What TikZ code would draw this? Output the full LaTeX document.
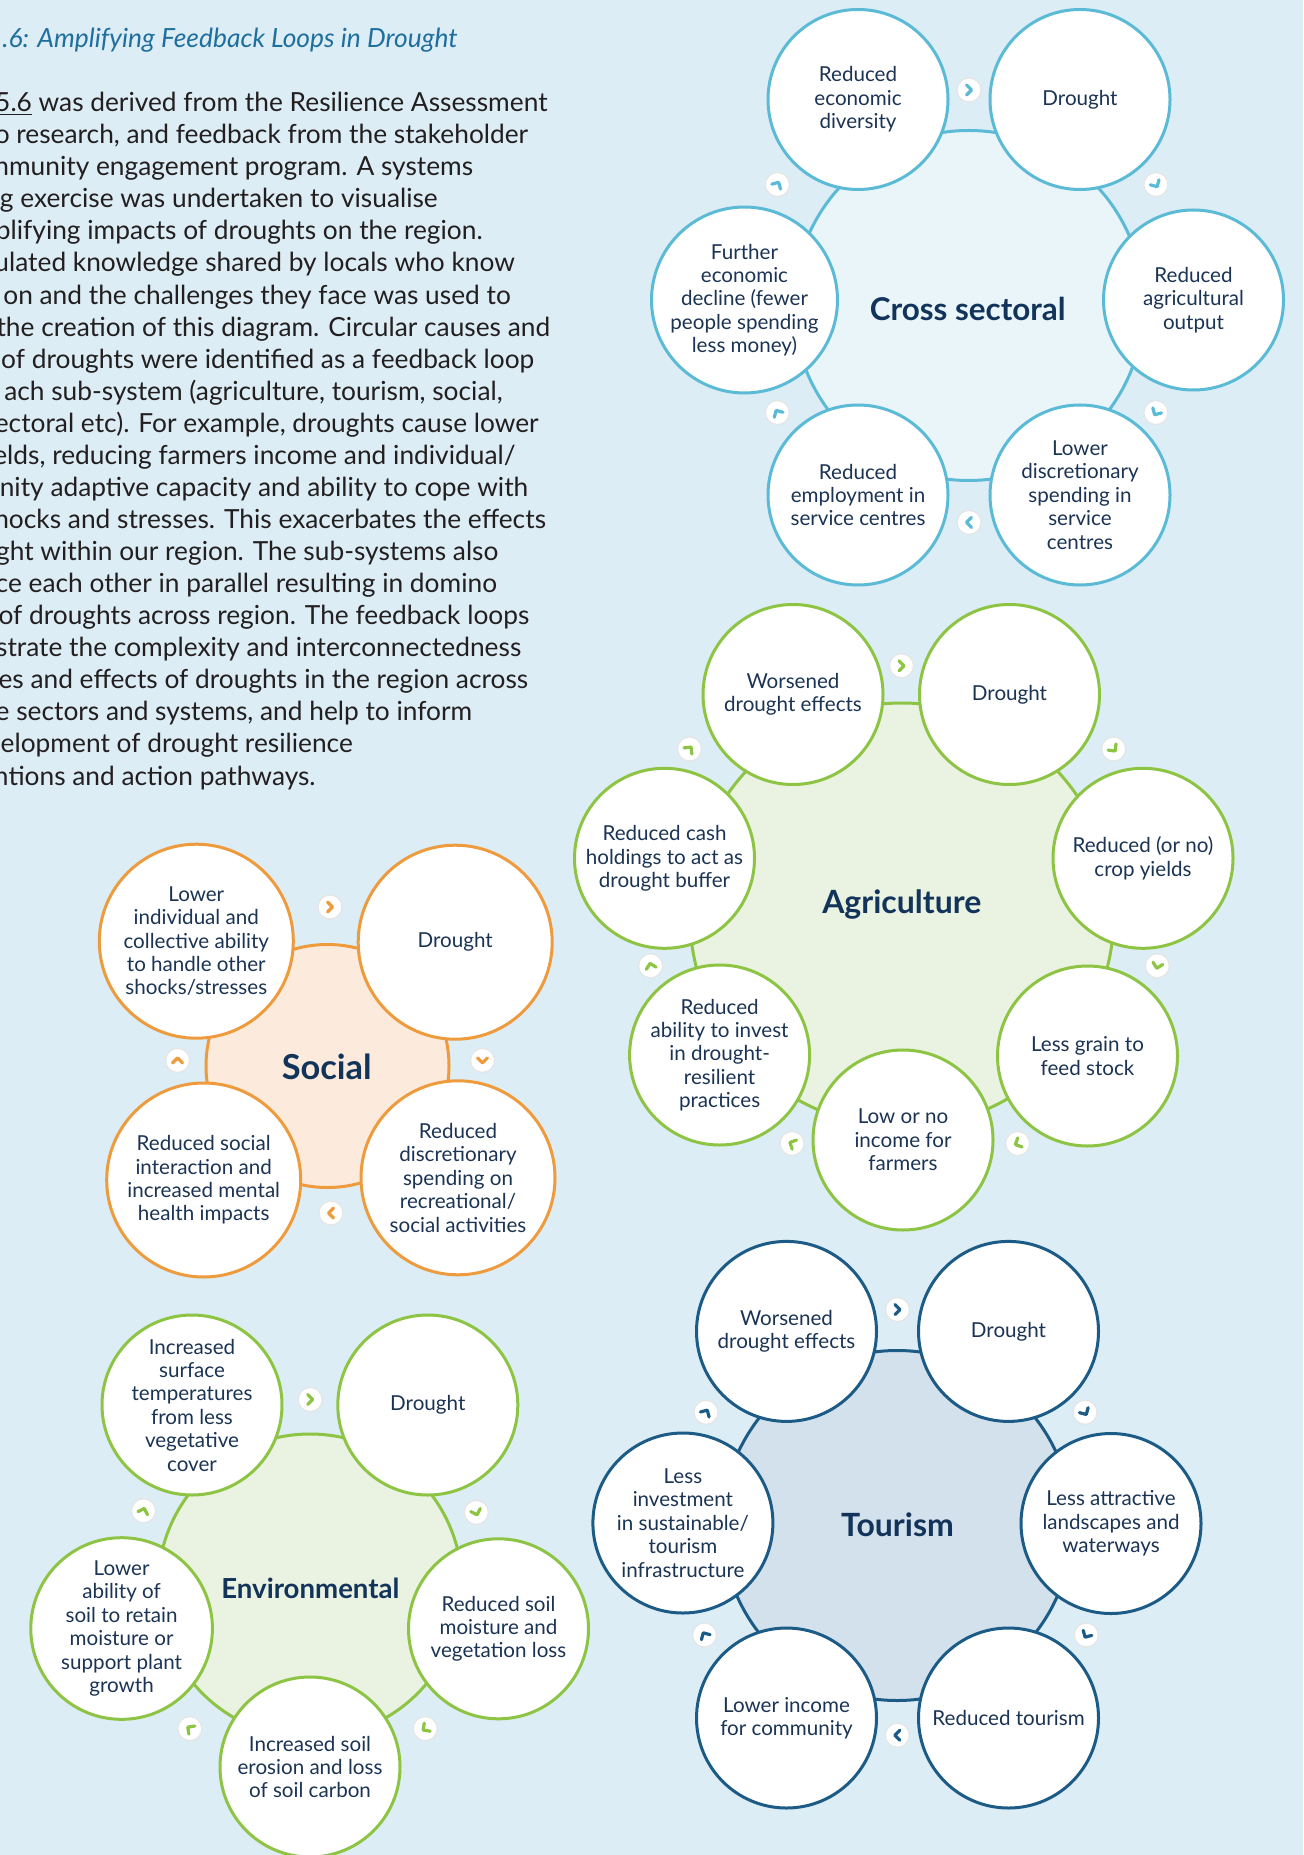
\documentclass[tikz,border=0pt]{standalone}
\usepackage{fontspec}
\setmainfont{Lato}
\definecolor{bg}{HTML}{DCEDF5}
\definecolor{csline}{HTML}{5BBAD5}
\definecolor{cshub}{HTML}{EAF5FA}
\definecolor{agline}{HTML}{8DC443}
\definecolor{aghub}{HTML}{EAF2E1}
\definecolor{soline}{HTML}{EE9B3D}
\definecolor{sohub}{HTML}{FCEBDC}
\definecolor{toline}{HTML}{1C5B86}
\definecolor{tohub}{HTML}{D3E1EC}
\definecolor{navy}{HTML}{1B3454}
\definecolor{titlec}{HTML}{13345A}
\definecolor{headc}{HTML}{1F6F9E}
\definecolor{bodyc}{HTML}{231F20}
\newcommand\satfont{\fontsize{10.3}{11.7}\selectfont}
\begin{document}
\begin{tikzpicture}[x=0.5pt,y=-0.5pt,
  sat/.style={circle, draw=#1, line width=1.5pt, fill=white, minimum size=90pt,
              inner sep=0pt, align=center, font=\satfont, text=navy},
  bigsat/.style={sat=#1, minimum size=97pt},
  hub/.style 2 args={circle, draw=#1, fill=#2, line width=1.5pt, inner sep=0pt},
  hubtitle/.style={inner sep=0pt, text=titlec, font=\bfseries\fontsize{#1}{#1}\selectfont},
  icon/.style={circle, fill=white, draw=black!10, line width=0.6pt, minimum size=12pt, inner sep=0pt},
  chev/.style={draw=#1, line width=1.6pt, line cap=round, line join=round},
  para/.style={anchor=base east, inner sep=0pt, text=bodyc, font=\fontsize{13.15}{15}\selectfont}]

\useasboundingbox (0,0) rectangle (1303,1855);
\fill[bg] (0,0) rectangle (1303,1855);
\clip (0,0) rectangle (1303,1855);

% ---------- heading and introduction ----------
\node[anchor=base east, inner sep=0pt, text=headc, font=\itshape\fontsize{13.2}{15}\selectfont]
  (head) at (458,48) {.6: Amplifying Feedback Loops in Drought};
\node[para] (p1)  at (548,111.7) {\underline{5.6} was derived from the Resilience Assessment};
\node[para] (p2)  at (528.6,143.8) {o research, and feedback from the stakeholder};
\node[para] (p3)  at (473.5,175.8) {nmunity engagement program. A systems};
\node[para] (p4)  at (438.2,207.9) {g exercise was undertaken to visualise};
\node[para] (p5)  at (483,239.9) {plifying impacts of droughts on the region.};
\node[para] (p6)  at (515.3,272.0) {ulated knowledge shared by locals who know};
\node[para] (p7)  at (511.2,304.1) {on and the challenges they face was used to};
\node[para] (p8)  at (550.6,336.1) {the creation of this diagram. Circular causes and};
\node[para] (p9)  at (534.8,368.2) {of droughts were identified as a feedback loop};
\node[para] (p10) at (503,400.2) {ach sub-system (agriculture, tourism, social,};
\node[para] (p11) at (539,432.3) {ectoral etc). For example, droughts cause lower};
\node[para] (p12) at (516,464.4) {elds, reducing farmers income and individual/};
\node[para] (p13) at (528.6,496.4) {nity adaptive capacity and ability to cope with};
\node[para] (p14) at (546.4,528.5) {hocks and stresses. This exacerbates the effects};
\node[para] (p15) at (498.8,560.5) {ght within our region. The sub-systems also};
\node[para] (p16) at (497.5,592.6) {ce each other in parallel resulting in domino};
\node[para] (p17) at (529.8,624.7) {of droughts across region. The feedback loops};
\node[para] (p18) at (521.6,656.7) {strate the complexity and interconnectedness};
\node[para] (p19) at (528.6,688.8) {es and effects of droughts in the region across};
\node[para] (p20) at (472.6,720.8) {e sectors and systems, and help to inform};
\node[para] (p21) at (353.2,752.9) {elopment of drought resilience};
\node[para] (p22) at (316,785) {ntions and action pathways.};

% ---------- hubs ----------
\node[hub={csline}{cshub}, minimum size=175pt] (csHub) at (968.7,305.5) {};
\node[hub={agline}{aghub}, minimum size=212pt] (agHub) at (901.8,915) {};
\node[hub={soline}{sohub}, minimum size=121.5pt] (soHub) at (327.5,1066) {};
\node[hub={agline}{aghub}, minimum size=152pt] (enHub) at (310,1586) {};
\node[hub={toline}{tohub}, minimum size=175pt] (toHub) at (897.2,1525.5) {};

% ---------- cross sectoral loop ----------
\node[sat=csline] (cs1) at (858,99.5) {Reduced\\economic\\diversity};
\node[sat=csline] (cs2) at (1080,99.5) {Drought};
\node[sat=csline] (cs3) at (1193.5,300) {Reduced\\agricultural\\output};
\node[sat=csline] (cs4) at (1080,495) {Lower\\discretionary\\spending in\\service\\centres};
\node[sat=csline] (cs5) at (858,495) {Reduced\\employment in\\service centres};
\node[sat=csline] (cs6) at (744.5,300) {Further\\economic\\decline (fewer\\people spending\\less money)};

% ---------- agriculture loop ----------
\node[sat=agline] (ag1) at (793,694.5) {Worsened\\drought effects};
\node[sat=agline] (ag2) at (1009.5,694.5) {Drought};
\node[sat=agline] (ag3) at (1143,858.3) {Reduced (or no)\\crop yields};
\node[sat=agline] (ag4) at (1087.5,1056) {Less grain to\\feed stock};
\node[sat=agline] (ag5) at (903,1140) {Low or no\\income for\\farmers};
\node[sat=agline] (ag6) at (719.6,1055) {Reduced\\ability to invest\\in drought-\\resilient\\practices};
\node[sat=agline] (ag7) at (664.5,858.3) {Reduced cash\\holdings to act as\\drought buffer};

% ---------- social loop ----------
\node[bigsat=soline] (so1) at (196.3,941.2) {Lower\\individual and\\collective ability\\to handle other\\shocks/stresses};
\node[bigsat=soline] (so2) at (455.2,942.2) {Drought};
\node[bigsat=soline] (so3) at (458,1177.8) {Reduced\\discretionary\\spending on\\recreational/\\social activities};
\node[bigsat=soline] (so4) at (203.7,1180) {Reduced social\\interaction and\\increased mental\\health impacts};

% ---------- environmental loop ----------
\node[sat=agline] (en1) at (192,1405) {Increased\\surface\\temperatures\\from less\\vegetative\\cover};
\node[sat=agline] (en2) at (427.8,1405) {Drought};
\node[sat=agline] (en3) at (498.5,1628.8) {Reduced soil\\moisture and\\vegetation loss};
\node[sat=agline] (en4) at (310,1767) {Increased soil\\erosion and loss\\of soil carbon};
\node[sat=agline] (en5) at (121.6,1628.5) {Lower\\ability of\\soil to retain\\moisture or\\support plant\\growth};

% ---------- tourism loop ----------
\node[sat=toline] (to1) at (786.5,1331.4) {Worsened\\drought effects};
\node[sat=toline] (to2) at (1008.5,1331.4) {Drought};
\node[sat=toline] (to3) at (1111,1523.5) {Less attractive\\landscapes and\\waterways};
\node[sat=toline] (to4) at (1008.5,1718) {Reduced tourism};
\node[sat=toline] (to5) at (786.5,1718) {Lower income\\for community};
\node[sat=toline] (to6) at (682.9,1523) {Less\\investment\\in sustainable/\\tourism\\infrastructure};

% ---------- direction markers (clockwise chevrons) ----------
\foreach \px/\py/\ang [count=\i] in {969/90/90, 1155.9/184.5/30, 1155.9/412.6/-30,
    969/522.4/-90, 777.4/412.6/-150, 777.4/184.5/150}{
  \node[icon] (csI\i) at (\px,\py) {};
  \draw[chev=csline, shift={(csI\i.center)}, rotate=\ang-90] (-2.5,-5) -- (2.5,0) -- (-2.5,5);
}
\foreach \px/\py/\ang [count=\i] in {901.5/665.8/90, 1113.6/749/38.57, 1157.3/965.8/-12.86,
    1017.6/1143.5/-64.29, 792.1/1143.5/-115.71, 650.6/965.8/-167.14, 689.5/749/141.43}{
  \node[icon] (agI\i) at (\px,\py) {};
  \draw[chev=agline, shift={(agI\i.center)}, rotate=\ang-90] (-2.5,-5) -- (2.5,0) -- (-2.5,5);
}
\foreach \px/\py/\ang [count=\i] in {330/907/90, 482.5/1060.4/0, 331/1213/-90, 177.6/1060.4/180}{
  \node[icon] (soI\i) at (\px,\py) {};
  \draw[chev=soline, shift={(soI\i.center)}, rotate=\ang-90] (-2.5,-5) -- (2.5,0) -- (-2.5,5);
}
\foreach \px/\py/\ang [count=\i] in {310.2/1399.5/90, 476.3/1512.4/18, 425.2/1728.6/-54,
    189.8/1728.6/-126, 143.5/1510.8/162}{
  \node[icon] (enI\i) at (\px,\py) {};
  \draw[chev=agline, shift={(enI\i.center)}, rotate=\ang-90] (-2.5,-5) -- (2.5,0) -- (-2.5,5);
}
\foreach \px/\py/\ang [count=\i] in {897.5/1309.6/90, 1085/1412.3/30, 1086.3/1635/-30,
    897.3/1735.2/-90, 704.5/1635/-150, 706/1412.3/150}{
  \node[icon] (toI\i) at (\px,\py) {};
  \draw[chev=toline, shift={(toI\i.center)}, rotate=\ang-90] (-2.5,-5) -- (2.5,0) -- (-2.5,5);
}

% ---------- loop titles ----------
\node[hubtitle=15.7] (csTitle) at (967.7,309) {Cross sectoral};
\node[hubtitle=16] (agTitle) at (901.8,904) {Agriculture};
\node[hubtitle=17.2] (soTitle) at (326.7,1067.3) {Social};
\node[hubtitle=13.8] (enTitle) at (310.4,1588.5) {Environmental};
\node[hubtitle=16] (toTitle) at (897.5,1524.8) {Tourism};
\end{tikzpicture}
\end{document}
